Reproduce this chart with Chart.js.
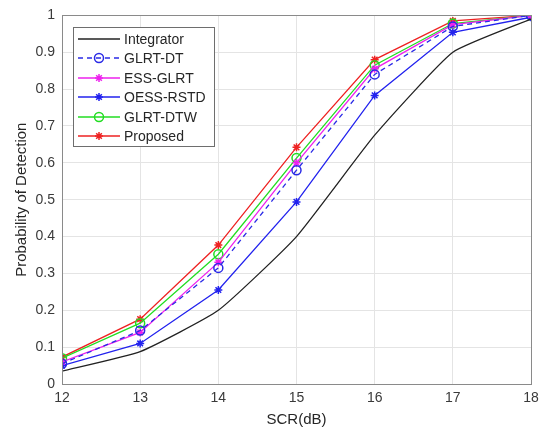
<!DOCTYPE html>
<html>
<head>
<meta charset="utf-8">
<script src="https://cdn.jsdelivr.net/npm/chart.js@4"></script>
<style>
  html, body { margin: 0; padding: 0; background: #fff; }
  #wrap { width: 541px; height: 437px; }
</style>
</head>
<body>
<div id="wrap"><canvas id="c" width="541" height="437"></canvas></div>
<script>
// SCR values (dB) on the x axis
const scr = [12, 13, 14, 15, 16, 17, 18];
const yTickLabels = ['0', '0.1', '0.2', '0.3', '0.4', '0.5', '0.6', '0.7', '0.8', '0.9', '1'];
const xTickLabels = ['12', '13', '14', '15', '16', '17', '18'];

// Probability of detection for each detector
const integrator = [0.035, 0.088, 0.200, 0.400, 0.675, 0.900, 0.990];
const glrtDt     = [0.055, 0.145, 0.315, 0.580, 0.840, 0.970, 1.000];
const essGlrt    = [0.060, 0.140, 0.330, 0.600, 0.855, 0.975, 1.000];
const oessRstd   = [0.050, 0.110, 0.255, 0.494, 0.783, 0.954, 0.995];
const glrtDtw    = [0.070, 0.165, 0.352, 0.613, 0.865, 0.978, 1.000];
const proposed   = [0.073, 0.176, 0.377, 0.642, 0.880, 0.985, 1.000];

const seriesNames = ['Integrator', 'GLRT-DT', 'ESS-GLRT', 'OESS-RSTD', 'GLRT-DTW', 'Proposed'];

const FONT = '"Liberation Sans", Arial, sans-serif';
const pts = arr => arr.map((v, i) => ({ x: scr[i], y: v }));

function ds(label, data, color, pointStyle, radius, extra) {
  return Object.assign({
    label, data: pts(data),
    borderColor: color, backgroundColor: color,
    pointBorderColor: color, pointBackgroundColor: color,
    pointStyle: pointStyle, pointRadius: radius, pointBorderWidth: 1.5,
    borderWidth: 1.3, tension: 0, fill: false
  }, extra || {});
}

const datasets = [
  ds(seriesNames[0], integrator, '#222222', false, 0, { tension: 0.15 }),
  ds(seriesNames[1], glrtDt, '#2a2ae6', 'circle', 4.5, { borderDash: [5, 4], pointBackgroundColor: 'rgba(0,0,0,0)' }),
  ds(seriesNames[2], essGlrt, '#ee22ee', 'star', 4),
  ds(seriesNames[3], oessRstd, '#2222ee', 'star', 4),
  ds(seriesNames[4], glrtDtw, '#22dd22', 'circle', 4.5, { pointBackgroundColor: 'rgba(0,0,0,0)' }),
  ds(seriesNames[5], proposed, '#ee2222', 'star', 4)
];

// Frame around the plot area and a boxed legend showing line + marker
const framePlugin = {
  id: 'frame',
  afterDraw(chart) {
    const { ctx, chartArea: a } = chart;
    ctx.save();
    ctx.strokeStyle = '#8a8a8a';
    ctx.lineWidth = 1;
    ctx.strokeRect(Math.round(a.left) + 0.5, Math.round(a.top) + 0.5,
                   Math.round(a.right - a.left), Math.round(a.bottom - a.top));

    // legend box
    const lx = 73, ly = 27, lw = 141, lh = 119;
    ctx.fillStyle = '#ffffff';
    ctx.fillRect(lx, ly, lw, lh);
    ctx.strokeStyle = '#6e6e6e';
    ctx.strokeRect(lx + 0.5, ly + 0.5, lw, lh);
    ctx.font = '14px ' + FONT;
    ctx.textBaseline = 'middle';
    chart.data.datasets.forEach((d, i) => {
      const y = Math.round(39 + i * 19.4);
      ctx.save();
      ctx.strokeStyle = d.borderColor;
      ctx.lineWidth = d.borderWidth;
      ctx.setLineDash(d.borderDash || []);
      ctx.beginPath();
      ctx.moveTo(78, y);
      ctx.lineTo(120, y);
      ctx.stroke();
      ctx.restore();
      if (d.pointStyle) {
        ctx.save();
        ctx.strokeStyle = d.pointBorderColor;
        ctx.fillStyle = d.pointBackgroundColor;
        ctx.lineWidth = d.pointBorderWidth;
        Chart.helpers.drawPoint(ctx, { pointStyle: d.pointStyle, radius: d.pointRadius, rotation: 0, borderWidth: d.pointBorderWidth }, 99, y);
        ctx.restore();
      }
      ctx.fillStyle = '#262626';
      ctx.fillText(d.label, 124, y + 1);
    });
    ctx.restore();
  }
};

new Chart(document.getElementById('c'), {
  type: 'line',
  data: { datasets },
  options: {
    responsive: false,
    animation: false,
    devicePixelRatio: 1,
    layout: { padding: { top: 15, right: 10, left: 0, bottom: 0 } },
    plugins: { legend: { display: false }, tooltip: { enabled: false } },
    scales: {
      x: {
        type: 'linear', min: 12, max: 18,
        afterFit(s) { s.height = 53; s.paddingRight = 0; },
        ticks: {
          stepSize: 1, color: '#3a3a3a',
          font: { size: 14, family: FONT },
          padding: 6,
          callback: (v) => xTickLabels[scr.indexOf(v)]
        },
        grid: { color: '#e4e4e4', drawTicks: false },
        border: { display: false },
        title: {
          display: true, text: 'SCR(dB)', color: '#262626',
          font: { size: 15, family: FONT },
          padding: { top: 8, bottom: 8 }
        }
      },
      y: {
        min: 0, max: 1,
        afterFit(s) { s.width = 62; },
        ticks: {
          stepSize: 0.1, color: '#3a3a3a',
          font: { size: 14, family: FONT },
          padding: 7,
          callback: (v) => yTickLabels[Math.round(v * 10)]
        },
        grid: { color: '#e4e4e4', drawTicks: false },
        border: { display: false },
        title: {
          display: true, text: 'Probability of Detection', color: '#262626',
          font: { size: 15, family: FONT },
          padding: { top: 13, bottom: 13 }
        }
      }
    }
  },
  plugins: [framePlugin]
});
</script>
</body>
</html>
